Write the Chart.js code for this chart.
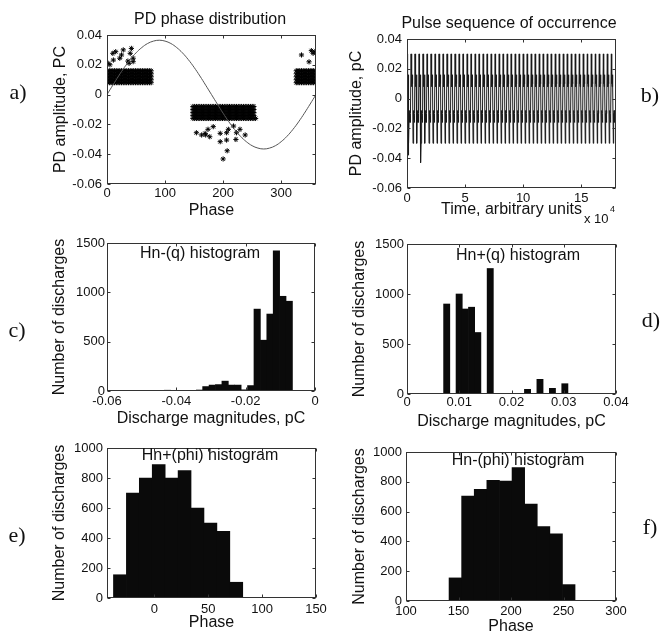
<!DOCTYPE html>
<html>
<head>
<meta charset="utf-8">
<script src="https://cdn.jsdelivr.net/npm/chart.js@4.4.1/dist/chart.umd.min.js"></script>
<style>
    html, body { margin: 0; padding: 0; background: #fff; overflow: hidden; }
    #page { position: relative; width: 662px; height: 633px; font-family: "Liberation Sans", Arial, sans-serif; color: #111; }
    #page canvas { position: absolute; }
    .txt { position: absolute; transform: translate(-50%, -50%); white-space: nowrap; line-height: 1; font-size: 16px; }
    .lbl { position: absolute; transform: translate(-50%, -50%); font-family: "Liberation Serif", "Times New Roman", serif; font-size: 22px; line-height: 1; }
    .small { position: absolute; white-space: nowrap; line-height: 1; }
</style>
</head>
<body>
<div id="page">
    <canvas id="pa" width="331" height="222" style="left:0;top:0"></canvas>
    <canvas id="pb" width="331" height="222" style="left:331px;top:0"></canvas>
    <canvas id="pc" width="331" height="212" style="left:0;top:220px"></canvas>
    <canvas id="pd" width="331" height="212" style="left:331px;top:220px"></canvas>
    <canvas id="pe" width="331" height="205" style="left:0;top:430px"></canvas>
    <canvas id="pf" width="331" height="210" style="left:331px;top:430px"></canvas>

    <div class="txt" style="left:210px;top:19px">PD phase distribution</div>
    <div class="txt" style="left:509px;top:23px">Pulse sequence of occurrence</div>
    <div class="txt" style="left:200px;top:253px">Hn-(q) histogram</div>
    <div class="txt" style="left:518px;top:255px">Hn+(q) histogram</div>
    <div class="txt" style="left:210px;top:455px">Hn+(phi) histogram</div>
    <div class="txt" style="left:518px;top:460px">Hn-(phi) histogram</div>
    <div class="small" style="left:584px;top:212px;font-size:13px">x 10</div>
    <div class="small" style="left:610px;top:205px;font-size:9px">4</div>

    <div class="lbl" style="left:18px;top:92px">a)</div>
    <div class="lbl" style="left:650px;top:95px">b)</div>
    <div class="lbl" style="left:17px;top:330px">c)</div>
    <div class="lbl" style="left:651px;top:320px">d)</div>
    <div class="lbl" style="left:17px;top:535px">e)</div>
    <div class="lbl" style="left:650px;top:527px">f)</div>
</div>

<script>
// a) PD phase distribution - reference sine and discharge clusters
const sinePhase = [0, 10, 20, 30, 40, 50, 60, 70, 80, 90, 100, 110, 120, 130, 140, 150, 160, 170, 180,
    190, 200, 210, 220, 230, 240, 250, 260, 270, 280, 290, 300, 310, 320, 330, 340, 350, 360];
const sineAmp = [0, 0.0063, 0.0125, 0.0183, 0.0235, 0.0280, 0.0316, 0.0343, 0.0359, 0.0365, 0.0359, 0.0343,
    0.0316, 0.0280, 0.0235, 0.0183, 0.0125, 0.0063, 0, -0.0063, -0.0125, -0.0183, -0.0235, -0.0280, -0.0316,
    -0.0343, -0.0359, -0.0365, -0.0359, -0.0343, -0.0316, -0.0280, -0.0235, -0.0183, -0.0125, -0.0063, 0];
const posBandPhase = [1, 4, 7, 10, 13, 16, 19, 22, 25, 28, 31, 34, 37, 40, 43, 46, 49, 52, 55, 58, 61, 64, 67, 70, 73, 76];
const negBandPhase = [148, 151, 154, 157, 160, 163, 166, 169, 172, 175, 178, 181, 184, 187, 190, 193, 196, 199,
    202, 205, 208, 211, 214, 217, 220, 223, 226, 229, 232, 235, 238, 241, 244, 247, 250, 253];
const tailBandPhase = [326, 329, 332, 335, 338, 341, 344, 347, 350, 353, 356, 359];
const posLevels = [0.008, 0.010, 0.012, 0.014, 0.016];
const negLevels = [-0.008, -0.010, -0.012, -0.014, -0.016];
const outlierPhase = [2, 5, 10, 11, 15, 22, 25, 28, 36, 38, 40, 42, 45, 45,
    154, 163, 169, 170, 174, 177, 183, 195, 195, 206, 206, 207, 209, 200, 218, 222, 223, 229, 238, 256,
    335, 348, 352, 355, 358];
const outlierAmp = [0.021, 0.020, 0.0277, 0.0232, 0.0288, 0.0244, 0.0266, 0.030, 0.0225, 0.021, 0.0277, 0.031, 0.0244, 0.0221,
    -0.0256, -0.0271, -0.026, -0.0271, -0.0233, -0.0283, -0.0215, -0.026, -0.0316, -0.0256, -0.0305, -0.0377, -0.0233,
    -0.0432, -0.0211, -0.0301, -0.0256, -0.0233, -0.0271, -0.016,
    0.0266, 0.022, 0.0295, 0.0277, 0.0288];

// b) Pulse sequence of occurrence (time in units of 1e4)
const cycleStart = [0, 0.35, 0.69, 1.04, 1.38, 1.73, 2.07, 2.42, 2.76, 3.11, 3.45, 3.8, 4.14, 4.49, 4.83, 5.18,
    5.52, 5.87, 6.21, 6.56, 6.9, 7.25, 7.59, 7.94, 8.28, 8.63, 8.97, 9.32, 9.66, 10.01, 10.35, 10.7, 11.04,
    11.39, 11.73, 12.08, 12.42, 12.77, 13.11, 13.46, 13.8, 14.15, 14.49, 14.84, 15.18, 15.53, 15.87, 16.22,
    16.56, 16.91, 17.25, 17.6];
const pulseOffset = [0, 0.02, 0.04, 0.06, 0.08, 0.10, 0.12, 0.14, 0.17, 0.19, 0.21, 0.23, 0.25, 0.27, 0.29, 0.31];
const pulseAmp = [0.030, 0.010, 0.016, 0.008, 0.014, 0.012, 0.016, 0.010,
    -0.030, -0.010, -0.016, -0.008, -0.014, -0.012, -0.016, -0.010];
const pulseOutlierTime = [0.1, 1.2];
const pulseOutlierAmp = [-0.038, -0.043];

// c) Hn-(q) histogram
const hnqNegCenters = [-0.04258, -0.04073, -0.03888, -0.03703, -0.03518, -0.03333, -0.03148, -0.02963, -0.02778, -0.02593,
    -0.02408, -0.02223, -0.02038, -0.01853, -0.01668, -0.01483, -0.01298, -0.01113, -0.00928, -0.00743];
const hnqNegCounts = [8, 0, 6, 0, 0, 10, 45, 60, 65, 100, 60, 60, 12, 55, 830, 515, 780, 1420, 960, 910];

// d) Hn+(q) histogram
const hnqPosCenters = [0.00760, 0.00879, 0.00998, 0.01117, 0.01236, 0.01355, 0.01474, 0.01593, 0.01712, 0.01831,
    0.01950, 0.02069, 0.02188, 0.02307, 0.02426, 0.02545, 0.02664, 0.02783, 0.02902, 0.03021];
const hnqPosCounts = [900, 0, 1000, 850, 868, 615, 0, 1255, 5, 5, 0, 4, 4, 47, 0, 147, 0, 57, 0, 103];

// e) Hn+(phi) histogram
const hnPhiPosCenters = [-32, -20, -8, 4, 16, 28, 40, 52, 64, 76];
const hnPhiPosCounts = [155, 700, 800, 890, 800, 850, 600, 500, 445, 105];

// f) Hn-(phi) histogram
const hnPhiNegCenters = [147, 159, 171, 183, 195, 207, 219, 231, 243, 255];
const hnPhiNegCounts = [155, 705, 750, 810, 805, 895, 650, 500, 450, 110];

// tick labels
const ampTicks = [-0.06, -0.04, -0.02, 0, 0.02, 0.04];
const phaseTicks = [0, 100, 200, 300];
const timeTicks = [0, 5, 10, 15];
const qNegTicks = [-0.06, -0.04, -0.02, 0];
const qPosTicks = [0, 0.01, 0.02, 0.03, 0.04];
const countTicks1500 = [0, 500, 1000, 1500];
const countTicks1000 = [0, 200, 400, 600, 800, 1000];
const phiPosTicks = [0, 50, 100, 150];
const phiNegTicks = [100, 150, 200, 250, 300];

Chart.defaults.font.family = '"Liberation Sans", Arial, sans-serif';
Chart.defaults.color = '#111';

// рамка с внутренними засечками на всех четырёх сторонах
const boxFrame = {
    id: 'boxFrame',
    afterDatasetsDraw(chart) {
        const { ctx, chartArea: a, scales } = chart;
        const left = Math.round(a.left) + 0.5, right = Math.round(a.right) - 0.5;
        const top = Math.round(a.top) + 0.5, bottom = Math.round(a.bottom) - 0.5;
        const tl = 3;
        ctx.save();
        ctx.strokeStyle = '#333';
        ctx.lineWidth = 1;
        ctx.beginPath();
        scales.x.ticks.forEach(t => {
            const px = Math.round(scales.x.getPixelForValue(t.value)) + 0.5;
            ctx.moveTo(px, bottom); ctx.lineTo(px, bottom - tl);
            ctx.moveTo(px, top); ctx.lineTo(px, top + tl);
        });
        scales.y.ticks.forEach(t => {
            const py = Math.round(scales.y.getPixelForValue(t.value)) + 0.5;
            ctx.moveTo(left, py); ctx.lineTo(left + tl, py);
            ctx.moveTo(right, py); ctx.lineTo(right - tl, py);
        });
        ctx.stroke();
        ctx.strokeRect(left, top, right - left, bottom - top);
        ctx.restore();
    }
};
Chart.register(boxFrame);

function fmt(v) {
    return String(+Number(v).toFixed(4));
}

function makePanel(id, spec) {
    const canvas = document.getElementById(id);
    const W = canvas.width, H = canvas.height;
    const area = spec.area;
    return new Chart(canvas, {
        type: spec.type,
        data: { datasets: spec.datasets },
        options: {
            responsive: false,
            animation: false,
            events: [],
            layout: { padding: { top: area.t, right: W - area.r, left: 0, bottom: 0 } },
            plugins: { legend: { display: false }, tooltip: { enabled: false } },
            scales: {
                x: {
                    type: 'linear', min: spec.xMin, max: spec.xMax, offset: false,
                    grid: { display: false, drawTicks: false }, border: { display: false },
                    afterBuildTicks: s => { s.ticks = spec.xTicks.map(v => ({ value: v })); },
                    afterFit: s => { s.height = H - area.b; },
                    ticks: { font: { size: 13 }, padding: spec.xPad, maxRotation: 0, autoSkip: false, callback: fmt },
                    title: { display: true, text: spec.xTitle, font: { size: 16 }, padding: { top: 0, bottom: spec.xTitlePad } }
                },
                y: {
                    type: 'linear', min: spec.yMin, max: spec.yMax,
                    grid: { display: false, drawTicks: false }, border: { display: false },
                    afterBuildTicks: s => { s.ticks = spec.yTicks.map(v => ({ value: v })); },
                    afterFit: s => { s.width = area.l; },
                    ticks: { font: { size: 13 }, padding: spec.yPad, autoSkip: false, callback: fmt },
                    title: { display: true, text: spec.yTitle, font: { size: 16 }, padding: { top: spec.yTitlePad, bottom: 0 } }
                }
            }
        }
    });
}

function histDataset(centers, counts) {
    return {
        data: centers.map((c, i) => ({ x: c, y: counts[i] })),
        backgroundColor: '#0a0a0a',
        borderWidth: 0,
        barPercentage: 1,
        categoryPercentage: 1
    };
}

// a) облако точек
const scatterPoints = [];
posBandPhase.forEach(p => posLevels.forEach(l => scatterPoints.push({ x: p, y: l })));
negBandPhase.forEach(p => negLevels.forEach(l => scatterPoints.push({ x: p, y: l })));
tailBandPhase.forEach(p => posLevels.forEach(l => scatterPoints.push({ x: p, y: l })));
outlierPhase.forEach((p, i) => scatterPoints.push({ x: p, y: outlierAmp[i] }));

makePanel('pa', {
    type: 'scatter',
    area: { l: 107, t: 35, r: 316, b: 184 },
    xMin: 0, xMax: 360, xTicks: phaseTicks, xTitle: 'Phase', xPad: 2, xTitlePad: 1.4,
    yMin: -0.06, yMax: 0.04, yTicks: ampTicks, yTitle: 'PD amplitude, PC', yPad: 5, yTitlePad: 51.4,
    datasets: [
        {
            data: sinePhase.map((p, i) => ({ x: p, y: sineAmp[i] })),
            showLine: true, pointRadius: 0, borderColor: '#555', borderWidth: 1, tension: 0.4, order: 0
        },
        {
            data: scatterPoints,
            pointStyle: 'star', pointRadius: 2.6, borderColor: '#000', backgroundColor: '#000', borderWidth: 1, order: 1
        }
    ]
});

// b) последовательность импульсов
const pulsePoints = [];
cycleStart.forEach(s => pulseOffset.forEach((o, i) => pulsePoints.push({ x: s + o, y: pulseAmp[i] })));
pulseOutlierTime.forEach((t, i) => pulsePoints.push({ x: t, y: pulseOutlierAmp[i] }));
pulsePoints.sort((p, q) => p.x - q.x);

makePanel('pb', {
    type: 'line',
    area: { l: 76, t: 39, r: 285, b: 188 },
    xMin: 0, xMax: 18, xTicks: timeTicks, xTitle: 'Time, arbitrary units', xPad: 3, xTitlePad: 2.9,
    yMin: -0.06, yMax: 0.04, yTicks: ampTicks, yTitle: 'PD amplitude, pC', yPad: 5, yTitlePad: 16.1,
    datasets: [{ data: pulsePoints, pointRadius: 0, borderColor: '#1a1a1a', borderWidth: 1, tension: 0 }]
});

makePanel('pc', {
    type: 'bar',
    area: { l: 107, t: 23, r: 315, b: 171 },
    xMin: -0.06, xMax: 0, xTicks: qNegTicks, xTitle: 'Discharge magnitudes, pC', xPad: 3, xTitlePad: 3.4,
    yMin: 0, yMax: 1500, yTicks: countTicks1500, yTitle: 'Number of discharges', yPad: 2, yTitlePad: 50.4,
    datasets: [histDataset(hnqNegCenters, hnqNegCounts)]
});

makePanel('pd', {
    type: 'bar',
    area: { l: 76, t: 24, r: 285, b: 174 },
    xMin: 0, xMax: 0.04, xTicks: qPosTicks, xTitle: 'Discharge magnitudes, pC', xPad: 1, xTitlePad: 0.7,
    yMin: 0, yMax: 1500, yTicks: countTicks1500, yTitle: 'Number of discharges', yPad: 3, yTitlePad: 18.7,
    datasets: [histDataset(hnqPosCenters, hnqPosCounts)]
});

makePanel('pe', {
    type: 'bar',
    area: { l: 107, t: 18, r: 316, b: 168 },
    xMin: -44, xMax: 150, xTicks: phiPosTicks, xTitle: 'Phase', xPad: 4, xTitlePad: 2.4,
    yMin: 0, yMax: 1000, yTicks: countTicks1000, yTitle: 'Number of discharges', yPad: 4, yTitlePad: 50.4,
    datasets: [histDataset(hnPhiPosCenters, hnPhiPosCounts)]
});

makePanel('pf', {
    type: 'bar',
    area: { l: 75, t: 22, r: 285, b: 171 },
    xMin: 100, xMax: 300, xTicks: phiNegTicks, xTitle: 'Phase', xPad: 3, xTitlePad: 3.4,
    yMin: 0, yMax: 1000, yTicks: countTicks1000, yTitle: 'Number of discharges', yPad: 4, yTitlePad: 18.7,
    datasets: [histDataset(hnPhiNegCenters, hnPhiNegCounts)]
});
</script>
</body>
</html>
